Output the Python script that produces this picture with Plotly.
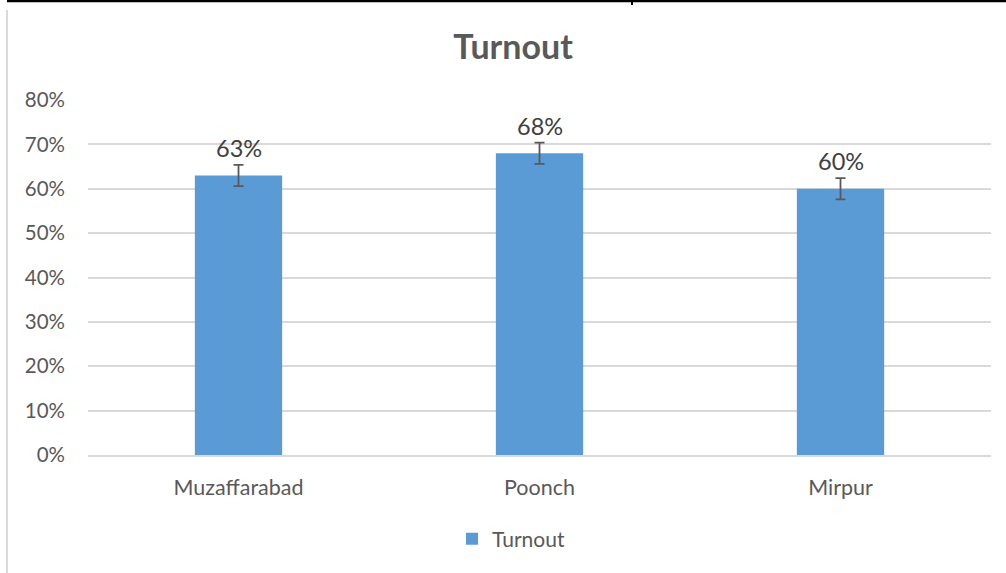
import plotly.graph_objects as go

categories = ["Muzaffarabad", "Poonch", "Mirpur"]
turnout = [0.63, 0.68, 0.60]
error = [0.024, 0.024, 0.024]
y_ticks = [0, 0.1, 0.2, 0.3, 0.4, 0.5, 0.6, 0.7, 0.8]

TEXT = "#595959"
FONT = "Lato, 'Open Sans', sans-serif"

fig = go.Figure()
fig.add_trace(go.Bar(
    x=categories, y=turnout, name="Turnout",
    marker=dict(color="#5B9BD5", line=dict(width=0)),
    width=0.29,
    error_y=dict(type="data", array=error, visible=True, color=TEXT, thickness=1.8, width=5),
))

for c, v, e in zip(categories, turnout, error):
    fig.add_annotation(x=c, y=v + e, text=f"{round(v*100)}%", showarrow=False,
                       yanchor="bottom", yshift=1, font=dict(size=23.5, color="#404040", family=FONT))

fig.update_layout(
    width=1006, height=573,
    margin=dict(l=88, r=15, t=100, b=118),
    paper_bgcolor="white", plot_bgcolor="white",
    title=dict(text="<b>Turnout</b>", x=(513 - 88) / 903, xref="paper", xanchor="center",
               y=1 - 47 / 573, yanchor="middle",
               font=dict(size=34, color=TEXT, family=FONT)),
    font=dict(family=FONT, color=TEXT, size=20),
    showlegend=True,
    legend=dict(orientation="h", x=(452 - 88) / 903, xanchor="left", y=-0.237, yanchor="middle",
                font=dict(size=21, color=TEXT, family=FONT), itemwidth=30),
    xaxis=dict(range=[-0.5, 2.5], showgrid=False, showline=True, linecolor="#D9D9D9", linewidth=1.5,
               ticks="", tickfont=dict(size=21.5, color=TEXT), ticklabelstandoff=12),
    yaxis=dict(range=[0, 0.8], tickvals=y_ticks, tickformat=".0%", showgrid=True, gridcolor="#D9D9D9",
               gridwidth=1.5, zeroline=False, showline=False, ticks="",
               tickfont=dict(size=20.5, color=TEXT), ticklabelstandoff=22),
)

# document frame artefacts
fig.add_shape(type="line", xref="paper", yref="paper", x0=-81/903, x1=(1006-88)/903,
              y0=1 + 99/355, y1=1 + 99/355, line=dict(color="black", width=2.5))
fig.add_shape(type="line", xref="paper", yref="paper", x0=-81/903, x1=-81/903,
              y0=1 + 90/355, y1=-118/355, line=dict(color="#D9D9D9", width=2))
fig.add_shape(type="line", xref="paper", yref="paper", x0=(632-88)/903, x1=(632-88)/903,
              y0=1 + 100/355, y1=1 + 95/355, line=dict(color="black", width=2))

fig.write_html("out.html", config={"displayModeBar": False},
               post_script="document.body.style.margin='0';")
